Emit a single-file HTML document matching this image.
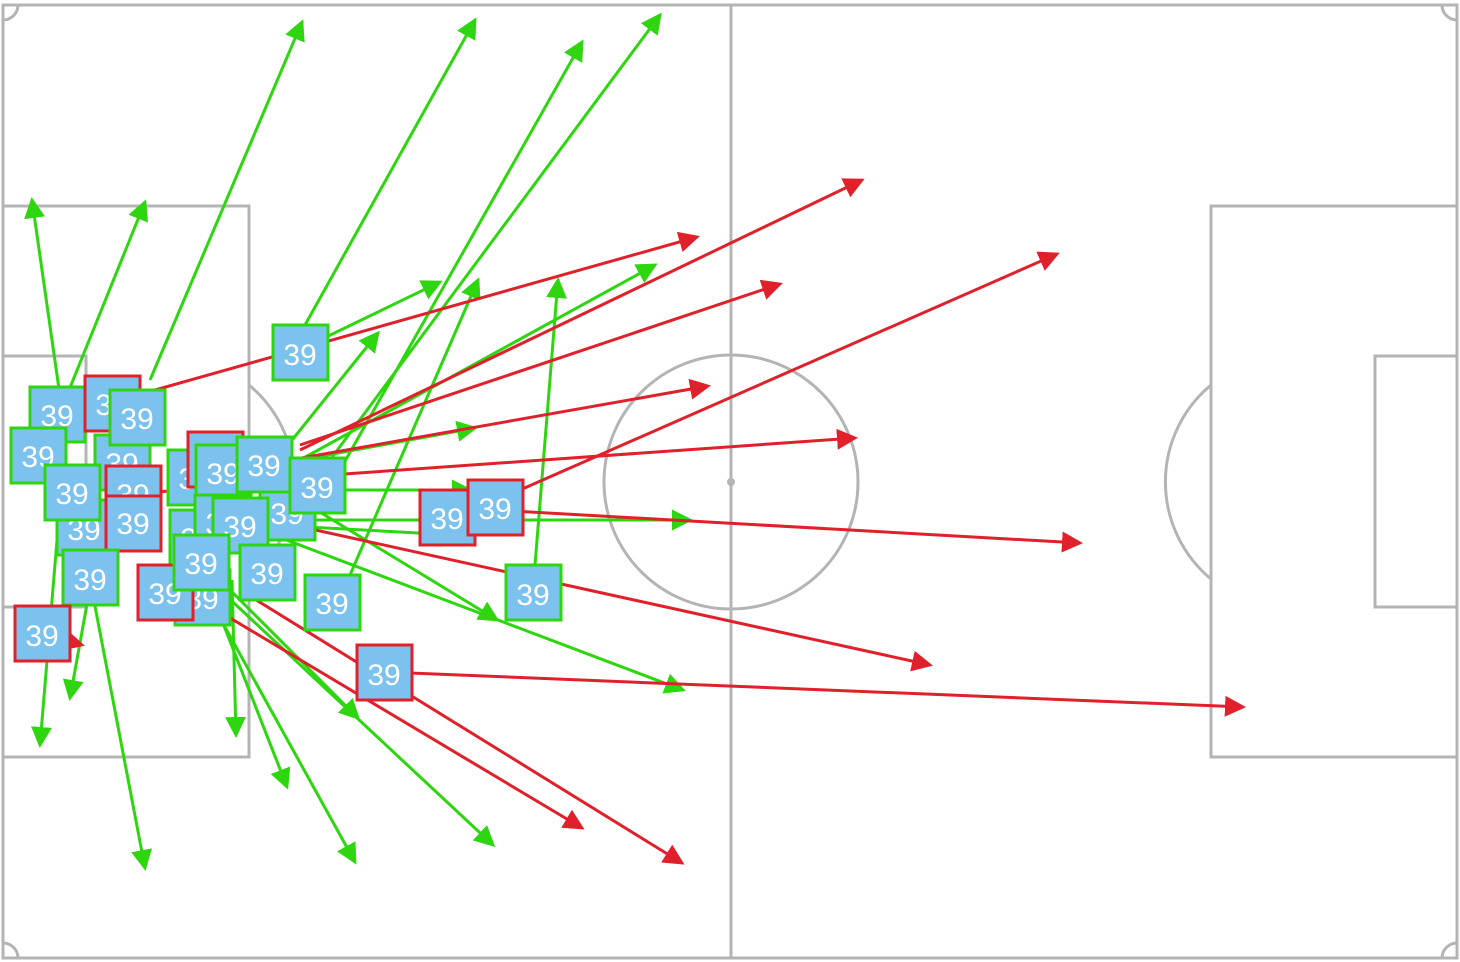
<!DOCTYPE html><html><head><style>
body{margin:0;background:#fff}svg{display:block}
.b text{font-family:"Liberation Sans",sans-serif;font-size:30px;fill:#fff;text-anchor:middle}
</style></head><body>
<svg width="1460" height="962" viewBox="0 0 1460 962">
<defs>
<marker id="g" markerWidth="7" markerHeight="7" refX="6" refY="3.5" orient="auto" markerUnits="strokeWidth"><path d="M0,0L7,3.5L0,7z" fill="#2ed60f"/></marker>
<marker id="r" markerWidth="7" markerHeight="7" refX="6" refY="3.5" orient="auto" markerUnits="strokeWidth"><path d="M0,0L7,3.5L0,7z" fill="#e0202a"/></marker>
</defs>
<g fill="none" stroke="#b4b4b4" stroke-width="3">
<rect x="3" y="5" width="1454" height="953"/>
<line x1="731" y1="5" x2="731" y2="958"/>
<circle cx="731" cy="482" r="127"/>
<rect x="3" y="206" width="246" height="551"/>
<rect x="3" y="356" width="83" height="251"/>
<rect x="1211" y="206" width="246" height="551"/>
<rect x="1375" y="356" width="82" height="251"/>
<path d="M249,385 A126,126 0 0 1 249,579"/>
<path d="M1211,385 A126,126 0 0 0 1211,579"/>
<path d="M3,20 A15,15 0 0 0 18,5"/><path d="M1442,5 A15,15 0 0 0 1457,20"/>
<path d="M3,943 A15,15 0 0 1 18,958"/><path d="M1442,958 A15,15 0 0 1 1457,943"/>
</g>
<circle cx="731" cy="482" r="4" fill="#b4b4b4"/>
<g stroke="#2ed60f" stroke-width="3" marker-end="url(#g)">
<line x1="150" y1="380" x2="302" y2="22"/>
<line x1="305" y1="325" x2="475" y2="20"/>
<line x1="340" y1="470" x2="582" y2="42"/>
<line x1="330" y1="460" x2="660" y2="15"/>
<line x1="62" y1="410" x2="32" y2="200"/>
<line x1="65" y1="400" x2="145" y2="202"/>
<line x1="320" y1="340" x2="440" y2="282"/>
<line x1="300" y1="460" x2="655" y2="265"/>
<line x1="350" y1="575" x2="478" y2="280"/>
<line x1="260" y1="480" x2="378" y2="333"/>
<line x1="535" y1="565" x2="558" y2="280"/>
<line x1="300" y1="460" x2="475" y2="428"/>
<line x1="320" y1="490" x2="470" y2="490"/>
<line x1="270" y1="520" x2="690" y2="520"/>
<line x1="270" y1="525" x2="455" y2="535"/>
<line x1="300" y1="500" x2="497" y2="620"/>
<line x1="260" y1="530" x2="683" y2="690"/>
<line x1="220" y1="580" x2="358" y2="718"/>
<line x1="220" y1="590" x2="493" y2="845"/>
<line x1="210" y1="600" x2="355" y2="862"/>
<line x1="210" y1="590" x2="287" y2="787"/>
<line x1="232" y1="580" x2="236" y2="735"/>
<line x1="90" y1="580" x2="145" y2="868"/>
<line x1="95" y1="560" x2="70" y2="698"/>
<line x1="62" y1="480" x2="40" y2="745"/>
</g>
<g stroke="#e0202a" stroke-width="3" marker-end="url(#r)">
<line x1="155" y1="390" x2="697" y2="237"/>
<line x1="300" y1="445" x2="780" y2="284"/>
<line x1="300" y1="450" x2="862" y2="180"/>
<line x1="520" y1="490" x2="1057" y2="254"/>
<line x1="290" y1="460" x2="708" y2="386"/>
<line x1="330" y1="475" x2="855" y2="438"/>
<line x1="495" y1="510" x2="1080" y2="543"/>
<line x1="270" y1="520" x2="930" y2="665"/>
<line x1="385" y1="672" x2="1243" y2="707"/>
<line x1="200" y1="600" x2="582" y2="828"/>
<line x1="240" y1="590" x2="682" y2="863"/>
<line x1="134" y1="493" x2="190" y2="490"/>
<line x1="42" y1="634" x2="82" y2="645"/>
</g>
<g class="b" stroke-width="3" fill="#7cc2ee">
<g stroke="#2ed60f"><rect x="30" y="387" width="55" height="55"/><text x="57" y="426" stroke="none">39</text></g>
<g stroke="#e0202a"><rect x="85" y="376" width="55" height="55"/><text x="112" y="415" stroke="none">39</text></g>
<g stroke="#2ed60f"><rect x="95" y="435" width="55" height="55"/><text x="122" y="474" stroke="none">39</text></g>
<g stroke="#2ed60f"><rect x="110" y="390" width="55" height="55"/><text x="137" y="429" stroke="none">39</text></g>
<g stroke="#2ed60f"><rect x="11" y="428" width="55" height="55"/><text x="38" y="467" stroke="none">39</text></g>
<g stroke="#2ed60f"><rect x="168" y="450" width="55" height="55"/><text x="195" y="489" stroke="none">39</text></g>
<g stroke="#e0202a"><rect x="188" y="432" width="55" height="55"/><text x="215" y="471" stroke="none">39</text></g>
<g stroke="#2ed60f"><rect x="196" y="445" width="55" height="55"/><text x="223" y="484" stroke="none">39</text></g>
<g stroke="#2ed60f"><rect x="260" y="485" width="55" height="55"/><text x="287" y="524" stroke="none">39</text></g>
<g stroke="#2ed60f"><rect x="237" y="437" width="55" height="55"/><text x="264" y="476" stroke="none">39</text></g>
<g stroke="#2ed60f"><rect x="290" y="458" width="55" height="55"/><text x="317" y="498" stroke="none">39</text></g>
<g stroke="#2ed60f"><rect x="57" y="500" width="55" height="55"/><text x="84" y="540" stroke="none">39</text></g>
<g stroke="#2ed60f"><rect x="45" y="465" width="55" height="55"/><text x="72" y="504" stroke="none">39</text></g>
<g stroke="#e0202a"><rect x="106" y="466" width="55" height="55"/><text x="133" y="505" stroke="none">39</text></g>
<g stroke="#e0202a"><rect x="106" y="496" width="55" height="55"/><text x="133" y="534" stroke="none">39</text></g>
<g stroke="#2ed60f"><rect x="170" y="510" width="55" height="55"/><text x="197" y="549" stroke="none">39</text></g>
<g stroke="#2ed60f"><rect x="195" y="495" width="55" height="55"/><text x="222" y="534" stroke="none">39</text></g>
<g stroke="#2ed60f"><rect x="213" y="498" width="55" height="55"/><text x="240" y="537" stroke="none">39</text></g>
<g stroke="#2ed60f"><rect x="63" y="550" width="55" height="55"/><text x="90" y="590" stroke="none">39</text></g>
<g stroke="#2ed60f"><rect x="175" y="570" width="55" height="55"/><text x="202" y="609" stroke="none">39</text></g>
<g stroke="#e0202a"><rect x="138" y="565" width="55" height="55"/><text x="165" y="604" stroke="none">39</text></g>
<g stroke="#2ed60f"><rect x="240" y="545" width="55" height="55"/><text x="267" y="584" stroke="none">39</text></g>
<g stroke="#2ed60f"><rect x="174" y="535" width="55" height="55"/><text x="201" y="574" stroke="none">39</text></g>
<g stroke="#e0202a"><rect x="15" y="606" width="55" height="55"/><text x="42" y="646" stroke="none">39</text></g>
<g stroke="#2ed60f"><rect x="305" y="575" width="55" height="55"/><text x="332" y="614" stroke="none">39</text></g>
<g stroke="#2ed60f"><rect x="506" y="565" width="55" height="55"/><text x="533" y="605" stroke="none">39</text></g>
<g stroke="#e0202a"><rect x="357" y="645" width="55" height="55"/><text x="384" y="685" stroke="none">39</text></g>
<g stroke="#e0202a"><rect x="420" y="490" width="55" height="55"/><text x="447" y="529" stroke="none">39</text></g>
<g stroke="#e0202a"><rect x="468" y="480" width="55" height="55"/><text x="495" y="519" stroke="none">39</text></g>
<g stroke="#2ed60f"><rect x="273" y="325" width="55" height="55"/><text x="300" y="365" stroke="none">39</text></g>
</g>
</svg></body></html>
